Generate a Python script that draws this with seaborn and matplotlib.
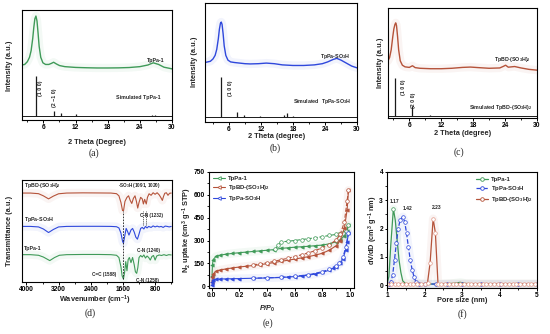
import numpy as np
import matplotlib
matplotlib.use("Agg")
import matplotlib.pyplot as plt
import seaborn as sns
from matplotlib.ticker import MultipleLocator
from matplotlib.lines import Line2D

# ---------------- data ----------------
# (a) TpPa-1 PXRD
a_x = [2.0, 2.5, 3.0, 3.4, 3.7, 4.0, 4.2, 4.4, 4.6, 4.8, 5.0, 5.2, 5.5, 5.9, 6.4, 7.0, 7.5, 7.9, 8.4, 9.0,
       10.0, 12.0, 14.0, 16.0, 18.0, 20.0, 22.0, 24.0, 25.5, 26.5, 27.5, 28.5, 30.0]
a_y = [0.50, 0.505, 0.53, 0.57, 0.63, 0.74, 0.84, 0.92, 0.945, 0.90, 0.79, 0.67, 0.57, 0.52, 0.505, 0.505,
       0.515, 0.525, 0.51, 0.495, 0.485, 0.478, 0.475, 0.473, 0.473, 0.474, 0.477, 0.485, 0.50, 0.52, 0.505,
       0.48, 0.465]
a_sim_pos = [4.6, 7.9, 9.2, 12.0, 26.2, 26.8]
a_sim_h = [0.36, 0.045, 0.02, 0.01, 0.006, 0.006]
a_sim_base = 0.04

# (b) TpPa-SO3H PXRD
b_x = [1.5, 2.0, 2.5, 3.0, 3.4, 3.7, 4.0, 4.2, 4.4, 4.55, 4.7, 4.9, 5.1, 5.4, 5.8, 6.3, 7.0, 8.0, 9.0, 10.0,
       11.5, 13.0, 14.5, 16.0, 18.0, 20.0, 22.0, 23.5, 24.5, 25.5, 26.2, 27.0, 28.0, 29.0, 30.0]
b_y = [0.50, 0.505, 0.51, 0.53, 0.56, 0.61, 0.70, 0.78, 0.83, 0.84, 0.82, 0.74, 0.64, 0.56, 0.52, 0.505, 0.50,
       0.495, 0.49, 0.488, 0.49, 0.495, 0.49, 0.48, 0.475, 0.475, 0.48, 0.49, 0.505, 0.525, 0.535, 0.52, 0.495,
       0.47, 0.455]
b_sim_pos = [4.5, 7.5, 8.8, 11.9, 16.3, 16.8, 18.0]
b_sim_h = [0.33, 0.035, 0.015, 0.008, 0.015, 0.03, 0.008]
b_sim_base = 0.045

# (c) TpBD-(SO3H)2 PXRD
c_x = [2.0, 2.3, 2.6, 2.9, 3.1, 3.3, 3.45, 3.6, 3.8, 4.0, 4.3, 4.7, 5.2, 6.0, 6.6, 7.1, 8.0, 10.0, 12.0, 14.0,
       16.0, 17.5, 19.0, 21.0, 23.0, 23.7, 24.1, 24.6, 25.8, 27.0, 28.5, 30.0]
c_y = [0.52, 0.55, 0.62, 0.74, 0.81, 0.85, 0.865, 0.84, 0.74, 0.62, 0.52, 0.48, 0.465, 0.46, 0.475, 0.458,
       0.452, 0.448, 0.448, 0.452, 0.46, 0.463, 0.458, 0.452, 0.455, 0.47, 0.48, 0.462, 0.468, 0.455, 0.442, 0.435]
c_sim_pos = [3.4, 6.6, 9.9]
c_sim_h = [0.35, 0.09, 0.015]
c_sim_base = 0.015

# (d) FTIR
red_w = [4100, 3900, 3700, 3580, 3450, 3330, 3200, 3000, 2600, 2200, 1900, 1760, 1700, 1650, 1610, 1585, 1550,
         1500, 1460, 1420, 1380, 1340, 1300, 1265, 1232, 1200, 1160, 1120, 1091, 1060, 1020, 990, 950, 900, 850,
         800, 750, 700, 660, 620, 590, 560, 520, 480, 440, 400]
red_t = [0.872, 0.872, 0.866, 0.845, 0.815, 0.842, 0.865, 0.872, 0.874, 0.873, 0.872, 0.866, 0.845, 0.78, 0.70,
         0.70, 0.79, 0.83, 0.845, 0.80, 0.77, 0.82, 0.845, 0.79, 0.725, 0.78, 0.83, 0.815, 0.765, 0.81, 0.765, 0.83,
         0.865, 0.85, 0.875, 0.86, 0.875, 0.855, 0.83, 0.80, 0.84, 0.87, 0.875, 0.85, 0.87, 0.872]
blue_w = [4100, 3900, 3700, 3580, 3450, 3330, 3200, 3000, 2600, 2200, 1900, 1760, 1700, 1650, 1610, 1588, 1560,
          1520, 1490, 1450, 1400, 1360, 1320, 1280, 1240, 1200, 1160, 1120, 1080, 1040, 1000, 960, 900, 850, 800,
          750, 700, 650, 600, 550, 500, 450, 400]
blue_t = [0.545, 0.545, 0.54, 0.52, 0.485, 0.515, 0.54, 0.545, 0.546, 0.546, 0.545, 0.542, 0.53, 0.48, 0.40,
          0.38, 0.44, 0.525, 0.50, 0.46, 0.51, 0.525, 0.49, 0.44, 0.42, 0.47, 0.525, 0.535, 0.52, 0.545, 0.53,
          0.545, 0.535, 0.55, 0.54, 0.548, 0.54, 0.545, 0.535, 0.548, 0.545, 0.54, 0.545]
green_w = [4100, 3900, 3700, 3580, 3420, 3300, 3180, 3000, 2600, 2200, 1900, 1760, 1700, 1650, 1620, 1588, 1560,
           1530, 1500, 1470, 1440, 1400, 1360, 1320, 1290, 1258, 1230, 1200, 1160, 1120, 1080, 1040, 1000, 960,
           920, 880, 840, 800, 760, 700, 640, 580, 520, 460, 400]
green_t = [0.268, 0.268, 0.262, 0.245, 0.21, 0.24, 0.262, 0.268, 0.27, 0.27, 0.268, 0.262, 0.24, 0.15, 0.06,
           0.03, 0.09, 0.20, 0.11, 0.22, 0.24, 0.19, 0.24, 0.17, 0.10, 0.085, 0.14, 0.24, 0.26, 0.245, 0.265, 0.235,
           0.255, 0.24, 0.215, 0.25, 0.26, 0.215, 0.255, 0.265, 0.26, 0.268, 0.26, 0.268, 0.265]
ftir_ticks = [4000, 3200, 2400, 1600, 800]

# (e) N2 isotherms
tp1_ads_p = [0.002, 0.005, 0.01, 0.03, 0.06, 0.1, 0.15, 0.2, 0.25, 0.3, 0.35, 0.4, 0.45, 0.5, 0.55, 0.6, 0.65,
             0.7, 0.75, 0.8, 0.85, 0.9, 0.93, 0.96, 0.98, 0.99]
tp1_ads_v = [70, 140, 175, 195, 203, 210, 215, 220, 224, 228, 232, 236, 240, 248, 252, 256, 259, 262, 266, 270,
             278, 292, 305, 330, 365, 400]
tp1_des_p = [0.99, 0.97, 0.95, 0.92, 0.9, 0.85, 0.8, 0.75, 0.7, 0.65, 0.6, 0.55, 0.5, 0.48, 0.46]
tp1_des_v = [400, 362, 352, 345, 340, 333, 325, 318, 312, 306, 300, 295, 290, 268, 242]
bd_ads_p = [0.002, 0.005, 0.01, 0.03, 0.06, 0.1, 0.15, 0.2, 0.25, 0.3, 0.35, 0.4, 0.45, 0.5, 0.55, 0.6, 0.65,
            0.7, 0.75, 0.8, 0.85, 0.9, 0.93, 0.96, 0.98, 0.99]
bd_ads_v = [30, 60, 80, 98, 106, 113, 120, 126, 131, 136, 141, 148, 155, 163, 170, 178, 186, 194, 204, 216, 236,
            265, 300, 380, 500, 630]
bd_des_p = [0.99, 0.98, 0.96, 0.93, 0.9, 0.85, 0.8, 0.75, 0.7, 0.65, 0.6, 0.55, 0.5, 0.45, 0.4, 0.35, 0.3]
bd_des_v = [630, 560, 420, 340, 302, 272, 252, 234, 219, 206, 194, 183, 173, 163, 154, 146, 140]
so3_ads_p = [0.002, 0.005, 0.01, 0.03, 0.06, 0.1, 0.15, 0.2, 0.3, 0.4, 0.5, 0.55, 0.6, 0.65, 0.7, 0.75, 0.8,
             0.85, 0.88, 0.9, 0.93, 0.95, 0.97, 0.98, 0.99]
so3_ads_v = [8, 28, 40, 45, 47, 48, 49, 50, 52, 54, 57, 60, 63, 67, 72, 80, 90, 105, 118, 128, 150, 180, 240,
             290, 350]
so3_des_p = [0.99, 0.97, 0.95, 0.92, 0.9, 0.85, 0.8, 0.7, 0.6, 0.5, 0.4, 0.3]
so3_des_v = [350, 255, 190, 150, 135, 110, 95, 75, 65, 58, 55, 52]

# (f) pore size distributions
f_green_d = [1.0, 1.05, 1.1, 1.17, 1.22, 1.27, 1.32, 1.37, 1.42, 1.5, 1.7, 2.0, 2.5, 2.8, 2.95, 3.1, 3.5, 4.0,
             4.5, 5.0]
f_green_v = [0.05, 0.3, 1.4, 2.7, 2.3, 1.6, 0.9, 0.45, 0.15, 0.05, 0.04, 0.04, 0.04, 0.07, 0.1, 0.06, 0.04, 0.04,
             0.04, 0.04]
f_blue_d = [1.05, 1.1, 1.15, 1.2, 1.25, 1.3, 1.35, 1.42, 1.47, 1.52, 1.57, 1.62, 1.67, 1.72, 1.77, 1.85, 2.0,
            2.3, 2.6, 3.0, 3.5, 4.0, 4.5, 5.0]
f_blue_v = [0.05, 0.1, 0.35, 0.9, 1.5, 2.0, 2.3, 2.42, 2.25, 1.85, 1.35, 0.9, 0.55, 0.3, 0.12, 0.05, 0.04,
            0.04, 0.04, 0.04, 0.04, 0.04, 0.04, 0.04]
f_red_d = [1.0, 1.1, 1.2, 1.3, 1.4, 1.5, 1.6, 1.7, 1.8, 1.9, 2.0, 2.08, 2.15, 2.23, 2.29, 2.36, 2.45, 2.55, 2.65,
           2.75, 2.85, 2.95, 3.05, 3.15, 3.25, 3.35, 3.45, 3.55, 3.65, 3.75, 3.85, 3.95, 4.05, 4.15, 4.25, 4.35,
           4.45, 4.55, 4.65, 4.75, 4.85, 4.95]
f_red_v = [0.05, 0.05, 0.05, 0.05, 0.05, 0.05, 0.05, 0.05, 0.05, 0.05, 0.05, 0.08, 0.8, 2.35, 1.85, 0.05, 0.05,
           0.05, 0.05, 0.05, 0.05, 0.05, 0.05, 0.05, 0.05, 0.05, 0.05, 0.05, 0.05, 0.05, 0.05, 0.05, 0.05, 0.05,
           0.05, 0.05, 0.05, 0.05, 0.05, 0.05, 0.05, 0.05]
f_peaks = ["1.17", "1.42", "2.23"]

names = ["TpPa-1", "TpPa-SO$_\\mathbf{3}$H", "TpBD-(SO$_\\mathbf{3}$H)$_\\mathbf{2}$"]

# ---------------- style ----------------
sns.set_theme(style="ticks")
plt.rcParams["font.family"] = ["Liberation Sans", "DejaVu Sans"]
plt.rcParams.update({
    "mathtext.fontset": "custom",
    "mathtext.rm": "Liberation Sans",
    "mathtext.bf": "Liberation Sans:bold",
    "mathtext.it": "Liberation Sans:italic:bold",
    "axes.linewidth": 0.8,
    "axes.edgecolor": "black",
    "xtick.color": "black",
    "ytick.color": "black",
    "xtick.major.size": 1.8,
    "ytick.major.size": 1.8,
    "xtick.minor.size": 1.1,
    "ytick.minor.size": 1.1,
    "xtick.major.width": 0.7,
    "ytick.major.width": 0.7,
    "xtick.minor.width": 0.6,
    "ytick.minor.width": 0.6,
    "xtick.major.pad": 1.0,
    "ytick.major.pad": 1.0,
})

GREEN = "#3f9a58"
BLUE = "#2f48dc"
RED = "#b5533a"
BLACK = "#1a1a1a"
LAB = 5.3
TK = 4.8
ANN = 3.8

W, H = 550, 334
fig = plt.figure(figsize=(5.5, 3.34), dpi=100)


def add_ax(l, r, t, b):
    return fig.add_axes([l / W, 1 - b / H, (r - l) / W, (b - t) / H])


def fx(x):
    return x / W


def fy(y):
    return 1 - y / H


def xlab(ax, s, x, y, **kw):
    ax.set_xlabel(s, fontsize=LAB, fontweight="bold", va="center", ha="center", **kw)
    ax.xaxis.set_label_coords(fx(x), fy(y), transform=fig.transFigure)


def ylab(ax, s, x, y):
    ax.set_ylabel(s, fontsize=LAB, fontweight="bold", va="center", ha="center")
    ax.yaxis.set_label_coords(fx(x), fy(y), transform=fig.transFigure)


def letter(s, x, y):
    fig.text(fx(x), fy(y), s, fontsize=7, family="Liberation Serif", ha="center", va="center")


def line(ax, x, y, color, lw=0.9, halo=True, **kw):
    if halo:
        sns.lineplot(x=np.asarray(x), y=np.asarray(y), ax=ax, color=color, lw=6, alpha=0.06,
                     sort=False, estimator=None, legend=False)
    sns.lineplot(x=np.asarray(x), y=np.asarray(y), ax=ax, color=color, lw=lw,
                 sort=False, estimator=None, legend=False, **kw)


def ticklabels(ax):
    for t in ax.get_xticklabels() + ax.get_yticklabels():
        t.set_fontweight("bold")
        t.set_fontsize(TK)


def xrd_panel(ax, x, y, color, sim_pos, sim_h, sim_base, xlim):
    line(ax, x, y, color, lw=1.0)
    ax.hlines(sim_base, xlim[0], xlim[1], color=BLACK, lw=0.7)
    ax.vlines(sim_pos, sim_base, np.asarray(sim_h) + sim_base, color=BLACK, lw=0.9)
    ax.set_xlim(*xlim)
    ax.set_ylim(0, 1)
    ax.set_yticks([])
    ax.xaxis.set_major_locator(MultipleLocator(6))
    ax.xaxis.set_minor_locator(MultipleLocator(3))
    ticklabels(ax)


# ---------------- (a) ----------------
ax = add_ax(22, 172, 10, 120)
xrd_panel(ax, a_x, a_y, GREEN, a_sim_pos, a_sim_h, a_sim_base, (2, 30))
ax.text(27.0, 0.545, names[0], fontsize=ANN, fontweight="bold", ha="center", va="center")
ax.text(23.8, 0.20, "Simulated " + names[0], fontsize=ANN, fontweight="bold", ha="center", va="center")
ax.text(5.5, 0.29, "(1 0 0)", fontsize=ANN, fontweight="bold", rotation=90, ha="center", va="center")
ax.text(8.0, 0.20, "(2 \u22121 0)", fontsize=ANN, fontweight="bold", rotation=90, ha="center", va="center")
xlab(ax, "2 Theta (Degree)", 97, 143)
ylab(ax, "Intensity (a.u.)", 10, 66)
letter("(a)", 94, 153)

# ---------------- (b) ----------------
ax = add_ax(205, 357, 3, 122)
xrd_panel(ax, b_x, b_y, BLUE, b_sim_pos, b_sim_h, b_sim_base, (1.5, 30))
ax.text(25.8, 0.55, names[1], fontsize=ANN, fontweight="bold", ha="center", va="center")
ax.text(23.4, 0.17, "Simulated  " + names[1], fontsize=ANN, fontweight="bold", ha="center", va="center")
ax.text(6.2, 0.28, "(1 0 0)", fontsize=ANN, fontweight="bold", rotation=90, ha="center", va="center")
xlab(ax, "2 Theta (degree)", 277, 136)
ylab(ax, "Intensity (a.u.)", 195, 62)
letter("(b)", 275, 148)

# ---------------- (c) ----------------
ax = add_ax(388, 537, 8, 118)
xrd_panel(ax, c_x, c_y, RED, c_sim_pos, c_sim_h, c_sim_base, (2, 30))
ax.text(25.3, 0.53, names[2], fontsize=ANN, fontweight="bold", ha="center", va="center")
ax.text(23.1, 0.10, "Simulated " + names[2], fontsize=ANN, fontweight="bold", ha="center", va="center")
ax.text(4.9, 0.28, "(1 0 0)", fontsize=ANN, fontweight="bold", rotation=90, ha="center", va="center")
ax.text(6.8, 0.16, "(2 0 0)", fontsize=ANN, fontweight="bold", rotation=90, ha="center", va="center")
xlab(ax, "2 Theta (degree)", 463, 134)
ylab(ax, "Intensity (a.u.)", 381, 63)
letter("(c)", 459, 152)

# ---------------- (d) ----------------
ax = add_ax(22, 172, 180, 282)
line(ax, red_w, red_t, RED, lw=0.8)
line(ax, blue_w, blue_t, BLUE, lw=0.8)
line(ax, green_w, green_t, GREEN, lw=0.8)
ax.vlines(1588, 0.03, 0.70, color=BLACK, lw=0.6, linestyles=(0, (2, 1.5)))
ax.vlines([1091, 1020], 0.56, 0.70, color=BLACK, lw=0.5, linestyles=(0, (1.5, 1.2)))
ax.set_xlim(4110, 380)
ax.set_ylim(0, 1)
ax.set_yticks([])
ax.set_xticks(ftir_ticks)
ax.xaxis.set_minor_locator(MultipleLocator(400))
ticklabels(ax)
ax.text(4050, 0.95, names[2], fontsize=ANN, fontweight="bold", ha="left", va="center")
ax.text(4050, 0.615, names[1], fontsize=ANN, fontweight="bold", ha="left", va="center")
ax.text(4050, 0.325, names[0], fontsize=ANN, fontweight="bold", ha="left", va="center")
ax.text(1200, 0.95, "-SO$_\\mathbf{3}$H (1091, 1020)", fontsize=3.3, fontweight="bold", ha="center", va="center")
ax.text(880, 0.655, "C-N (1232)", fontsize=3.3, fontweight="bold", ha="center", va="center")
ax.text(960, 0.31, "C-N (1240)", fontsize=3.3, fontweight="bold", ha="center", va="center")
ax.text(2080, 0.07, "C=C (1588)", fontsize=3.3, fontweight="bold", ha="center", va="center")
ax.text(1000, 0.015, "C-N (1258)", fontsize=3.3, fontweight="bold", ha="center", va="center")
xlab(ax, "Wavenumber (cm$^{\\mathbf{-1}}$)", 95, 300)
ylab(ax, "Transmittance (a.u.)", 10, 231)
letter("(d)", 90, 313)

# ---------------- (e) ----------------
ax = add_ax(209, 354, 172, 288)
series_e = [
    (tp1_ads_p, tp1_ads_v, tp1_des_p, tp1_des_v, GREEN),
    (bd_ads_p, bd_ads_v, bd_des_p, bd_des_v, RED),
    (so3_ads_p, so3_ads_v, so3_des_p, so3_des_v, BLUE),
]
for ap, av, dp, dv, col in series_e:
    line(ax, ap, av, col, lw=0.8, marker="<", ms=2.4, mec=col, mfc=col, mew=0.5)
    line(ax, dp, dv, col, lw=0.8, halo=False, linestyle="--", marker="o", ms=2.6, mec=col, mfc="white",
         mew=0.5)
ax.set_xlim(-0.02, 1.03)
ax.set_ylim(-12, 750)
ax.xaxis.set_major_locator(MultipleLocator(0.2))
ax.xaxis.set_minor_locator(MultipleLocator(0.1))
ax.yaxis.set_major_locator(MultipleLocator(150))
ax.yaxis.set_minor_locator(MultipleLocator(75))
ax.xaxis.set_major_formatter(matplotlib.ticker.FormatStrFormatter("%.1f"))
ticklabels(ax)
handles = [Line2D([], [], color=c, lw=0.8, marker="<", ms=2.6, mfc="white", mec=c, mew=0.6)
           for c in (GREEN, RED, BLUE)]
ax.legend(handles, [names[0], names[2], names[1]], loc="upper left", frameon=False,
          prop={"size": 4.3, "weight": "bold"}, handlelength=2.0, handletextpad=0.5, labelspacing=0.35,
          borderaxespad=0.25)
xlab(ax, "P/P$_\\mathbf{0}$", 267, 309, fontstyle="italic")
ylab(ax, "N$_\\mathbf{2}$ uptake (cm$^\\mathbf{3}$ g$^{\\mathbf{-1}}$ STP)", 187, 230)
letter("(e)", 268, 323)

# ---------------- (f) ----------------
ax = add_ax(387, 537, 172, 288)
line(ax, f_green_d, f_green_v, GREEN, lw=0.9, marker="o", ms=2.6, mec=GREEN, mfc="white", mew=0.5,
     markevery=[3])
line(ax, f_blue_d, f_blue_v, BLUE, lw=0.9, linestyle="--", marker="o", ms=2.6, mec=BLUE, mfc="white",
     mew=0.5)
line(ax, f_red_d, f_red_v, RED, lw=0.9, marker="o", ms=2.6, mec="#e29a8a", mfc="white", mew=0.5)
ax.set_xlim(1, 5)
ax.set_ylim(-0.1, 4)
ax.xaxis.set_major_locator(MultipleLocator(1))
ax.xaxis.set_minor_locator(MultipleLocator(0.5))
ax.yaxis.set_major_locator(MultipleLocator(1))
ax.yaxis.set_minor_locator(MultipleLocator(0.5))
ticklabels(ax)
ax.text(1.19, 2.95, f_peaks[0], fontsize=3.6, fontweight="bold", ha="center", va="center")
ax.text(1.56, 2.72, f_peaks[1], fontsize=3.6, fontweight="bold", ha="center", va="center")
ax.text(2.33, 2.73, f_peaks[2], fontsize=3.6, fontweight="bold", ha="center", va="center")
handles = [Line2D([], [], color=c, lw=0.9, ls=ls, marker="o", ms=2.6, mfc="white", mec=c, mew=0.6)
           for c, ls in ((GREEN, "-"), (BLUE, "--"), (RED, "-"))]
ax.legend(handles, names, loc="upper right", frameon=False,
          prop={"size": 4.3, "weight": "bold"}, handlelength=2.0, handletextpad=0.5, labelspacing=0.35,
          borderaxespad=0.4)
xlab(ax, "Pore size (nm)", 462, 301)
ylab(ax, "dV/dD (cm$^\\mathbf{3}$ g$^{\\mathbf{-1}}$ nm)", 373, 230)
letter("(f)", 462, 314)

fig.savefig("out.png", dpi=100)
